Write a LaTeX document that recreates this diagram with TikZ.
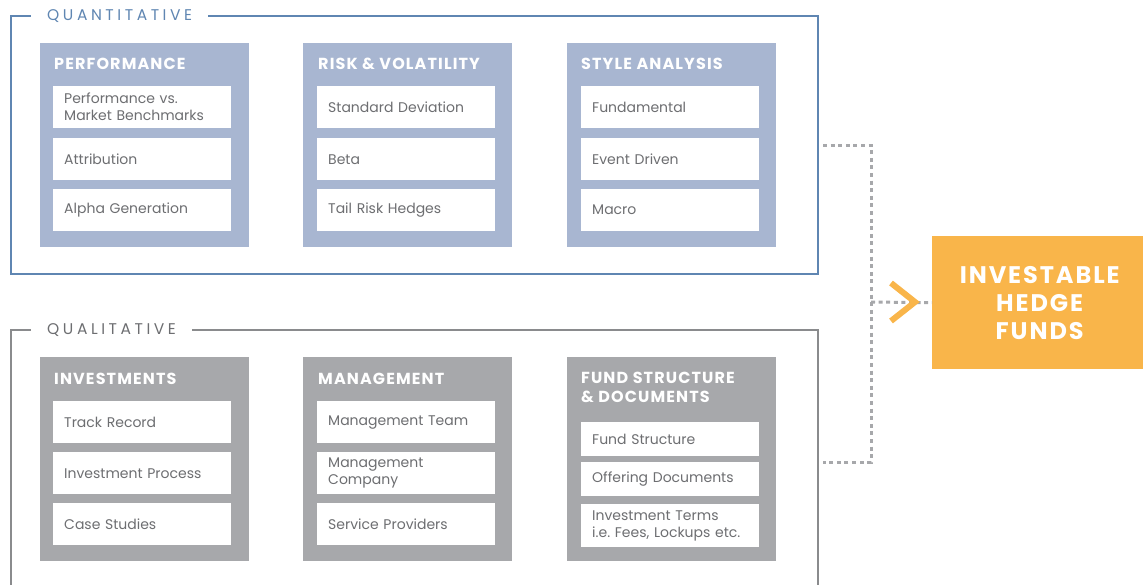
\documentclass[tikz,border=0pt]{standalone}
\usepackage{fontspec}
\setmainfont{Poppins}
\frenchspacing
\definecolor{qblue}{HTML}{5F86B2}
\definecolor{qpanelc}{HTML}{A8B6D1}
\definecolor{lgrey}{HTML}{8A8B8D}
\definecolor{lpanelc}{HTML}{A7A8AB}
\definecolor{txtgrey}{HTML}{6D6E71}
\definecolor{orng}{HTML}{F9B54A}
\definecolor{dotgrey}{HTML}{A7A8AB}
\begin{document}
\begin{tikzpicture}[x=1pt,y=-1pt,
  frameq/.style={draw=qblue,line width=2.5pt,anchor=north west,minimum width=807pt,inner sep=0pt,outer sep=0pt},
  framel/.style={draw=lgrey,line width=2.5pt,anchor=north west,minimum width=807pt,inner sep=0pt,outer sep=0pt},
  flabel/.style={fill=white,inner xsep=16pt,inner ysep=2pt,anchor=west,font=\fontsize{15.5}{18}\selectfont\addfontfeature{LetterSpace=23}},
  panel/.style={anchor=north west,minimum width=209pt,minimum height=204pt,inner sep=0pt,outer sep=0pt},
  ptitle/.style={anchor=base west,text=white,inner sep=0pt,align=left,font=\fontsize{16}{19}\selectfont\bfseries\addfontfeature{LetterSpace=7}},
  item/.style={fill=white,anchor=north west,text width=156pt,inner xsep=11pt,inner ysep=0pt,minimum height=42pt,align=left,text=txtgrey,font=\fontsize{14}{17}\selectfont},
  dotline/.style={draw=dotgrey,line width=3pt,dash pattern=on 4pt off 3.6pt},
]
\useasboundingbox (0,0) rectangle (1143,584);
\clip (0,0) rectangle (1143,584);
% frames
\node[frameq,minimum height=258pt] (quant) at (11,16) {};
\node[framel,minimum height=264pt] (qual) at (11,330) {};
\node[flabel,text=qblue] (quantlab) at (31,16) {QUANTITATIVE};
\node[flabel,text=txtgrey] (quallab) at (31,330) {QUALITATIVE};
% quantitative panels
\node[panel,fill=qpanelc] (perf) at (40,43) {};
\node[panel,fill=qpanelc] (risk) at (303,43) {};
\node[panel,fill=qpanelc] (style) at (567,43) {};
\node[ptitle] (perft) at (54,69) {PERFORMANCE};
\node[ptitle] (riskt) at (318,69) {RISK \& VOLATILITY};
\node[ptitle] (stylet) at (581,69) {STYLE ANALYSIS};
\node[item] (p1) at (53,86) {Performance vs.\\Market Benchmarks};
\node[item] (p2) at (53,138) {Attribution};
\node[item] (p3) at (53,189) {Alpha Generation};
\node[item] (r1) at (317,86) {Standard Deviation};
\node[item] (r2) at (317,138) {Beta};
\node[item] (r3) at (317,189) {Tail Risk Hedges};
\node[item] (s1) at (581,86) {Fundamental};
\node[item] (s2) at (581,138) {Event Driven};
\node[item] (s3) at (581,189) {Macro};
% qualitative panels
\node[panel,fill=lpanelc] (inv) at (40,357) {};
\node[panel,fill=lpanelc] (mgmt) at (303,357) {};
\node[panel,fill=lpanelc] (fund) at (567,357) {};
\node[ptitle] (invt) at (54,384) {INVESTMENTS};
\node[ptitle] (mgmtt) at (318,384) {MANAGEMENT};
\node[ptitle] (fundt) at (581,402) {FUND STRUCTURE\\\& DOCUMENTS};
\node[item] (i1) at (53,401) {Track Record};
\node[item] (i2) at (53,452) {Investment Process};
\node[item] (i3) at (53,503) {Case Studies};
\node[item] (m1) at (317,401) {Management Team};
\node[item] (m2) at (317,452) {Management\\Company};
\node[item] (m3) at (317,503) {Service Providers};
\node[item,minimum height=34pt] (f1) at (581,422) {Fund Structure};
\node[item,minimum height=34pt] (f2) at (581,462) {Offering Documents};
\node[item,minimum height=43pt] (f3) at (581,504) {Investment Terms\\i.e. Fees, Lockups etc.};
% result
\node[fill=orng,anchor=north west,minimum width=215pt,minimum height=133pt,inner sep=0pt,text=white,align=center,
  font=\fontsize{24}{28}\selectfont\bfseries\addfontfeature{LetterSpace=8}] (res) at (932,236) {INVESTABLE\\HEDGE\\FUNDS};
% connector
\coordinate (bus) at (871,302);
\draw[dotline] ([xshift=5pt]quant.east) -| (bus) |- ([xshift=5pt]qual.east);
\draw[dotline] (bus) -- (res.west);
\coordinate (chev) at (915,302);
\draw[orng,line width=6pt] ([shift={(-24,-19)}]chev) -- (chev) -- ([shift={(-24,19)}]chev);
\end{tikzpicture}
\end{document}
